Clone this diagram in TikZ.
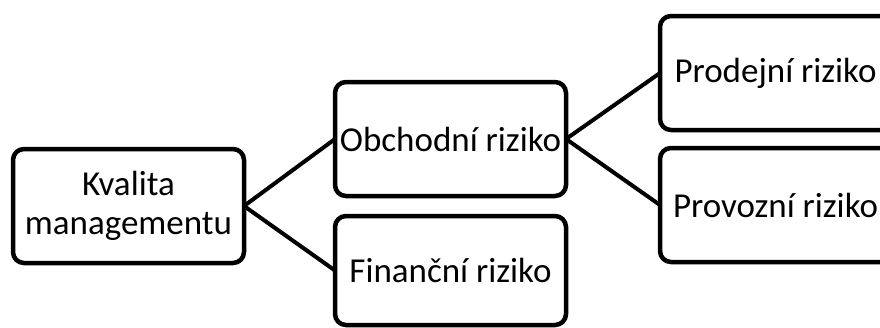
\documentclass[tikz,border=0pt]{standalone}
\usepackage{fontspec}
\setmainfont{Carlito}
\begin{document}
\begin{tikzpicture}[x=1pt,y=-1pt,
  box/.style={draw=black, line width=4.5pt, rounded corners=11pt, fill=white,
    minimum width=231pt, minimum height=114pt, inner sep=0pt, outer sep=0pt,
    align=center, font=\fontsize{35}{39}\selectfont},
  link/.style={draw=black, line width=4pt}]
\useasboundingbox (0,0) rectangle (880,327);
\node[box] (k) at (128.5,206) {Kvalita\\managementu};
\node[box] (o) at (450.5,139) {Obchodní riziko};
\node[box, minimum height=109pt] (f) at (450.5,270.5) {Finanční riziko};
\node[box] (p) at (775.5,73) {Prodejní riziko};
\node[box] (v) at (775.5,205) {Provozní riziko};
\draw[link] (k.east) -- (o.west);
\draw[link] (k.east) -- (f.west);
\draw[link] (o.east) -- (p.west);
\draw[link] (o.east) -- (v.west);
\end{tikzpicture}
\end{document}
